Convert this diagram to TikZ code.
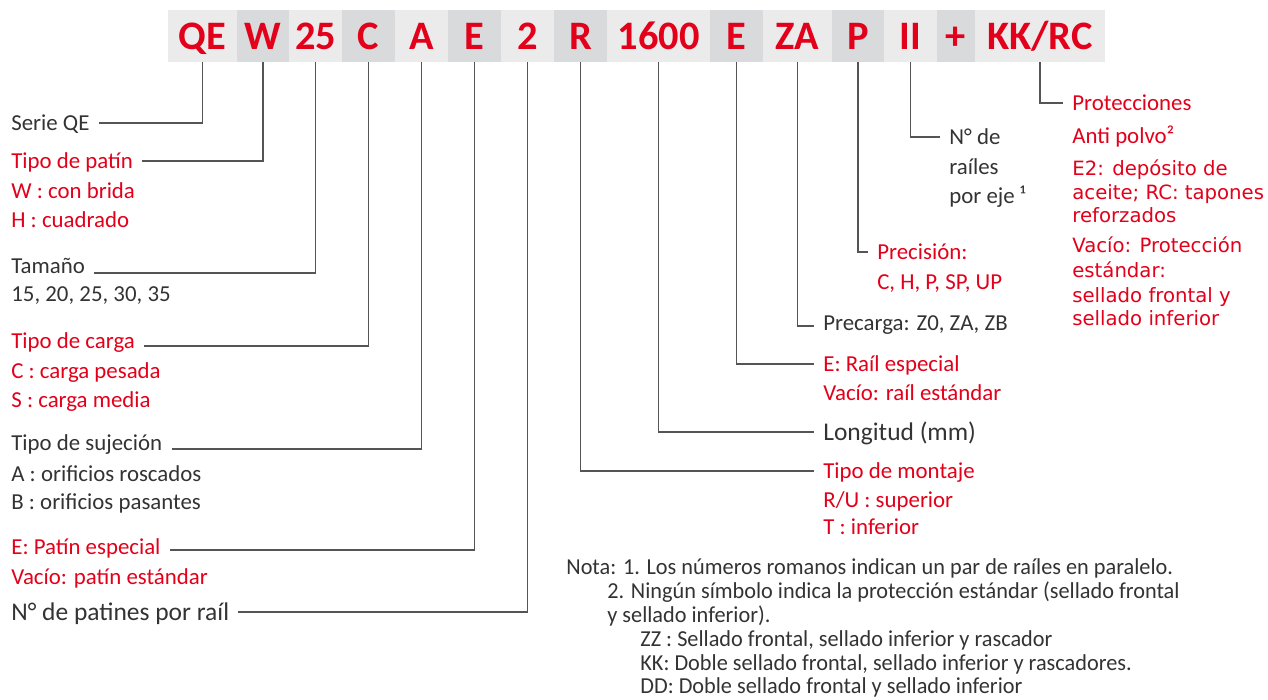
\documentclass[tikz,border=0pt]{standalone}
\usepackage{fontspec}
\setmainfont{Carlito}
\newfontfamily\notefont[FakeStretch=0.975]{Carlito}
\newfontfamily\altfont{DejaVu Sans}
\usepackage{tikz}
\usetikzlibrary{positioning}
\definecolor{CodeRed}{HTML}{E2001A}
\definecolor{CodeGray}{HTML}{333333}
\definecolor{CodeLine}{HTML}{555555}
\definecolor{CellLight}{HTML}{EBEBEB}
\definecolor{CellDark}{HTML}{D9DADB}

\begin{document}
\begin{tikzpicture}[x=0.2mm, y=-0.2mm, cell/.style={inner sep=0pt, outer sep=0pt, minimum height=10.4mm, text height=14.8pt, text depth=0pt, font=\fontsize{23}{26}\selectfont\bfseries, text=CodeRed}, lightcell/.style={cell, fill=CellLight}, darkcell/.style={cell, fill=CellDark}, lbl/.style={anchor=west, inner xsep=1.8mm, inner ysep=0pt, text height=8.4pt, text depth=0pt, font=\fontsize{13}{15}\selectfont, text=CodeGray}, redlbl/.style={lbl, text=CodeRed}, biglbl/.style={lbl, font=\fontsize{14.5}{17}\selectfont, text height=9.3pt}, altlbl/.style={redlbl, font=\altfont\fontsize{11.2}{13}\selectfont, text height=8.2pt}, notelbl/.style={lbl, inner xsep=0pt, font=\notefont\fontsize{13}{15}\selectfont}, lead/.style={line width=1pt, draw=CodeLine}]
\useasboundingbox (0,0) rectangle (1268,699);
% code bar
\node[lightcell, minimum width=13.8mm] (qe) at (202.5,36) {QE};
\node[darkcell, minimum width=10.4mm, right=0pt of qe] (w) {W};
\node[lightcell, minimum width=10.6mm, right=0pt of w] (size) {25};
\node[darkcell, minimum width=10.6mm, right=0pt of size] (load) {C};
\node[lightcell, minimum width=10.6mm, right=0pt of load] (fix) {A};
\node[darkcell, minimum width=10.6mm, right=0pt of fix] (blk) {E};
\node[lightcell, minimum width=10.6mm, right=0pt of blk] (nblk) {2};
\node[darkcell, minimum width=10.6mm, right=0pt of nblk] (mnt) {R};
\node[lightcell, minimum width=20.6mm, right=0pt of mnt] (len) {1600};
\node[darkcell, minimum width=10.6mm, right=0pt of len] (rail) {E};
\node[lightcell, minimum width=13.8mm, right=0pt of rail] (pre) {ZA};
\node[darkcell, minimum width=10.4mm, right=0pt of pre] (acc) {P};
\node[lightcell, minimum width=10.6mm, right=0pt of acc] (nrail) {II};
\node[darkcell, minimum width=7.6mm, right=0pt of nrail] (plus) {+};
\node[lightcell, minimum width=26mm, right=0pt of plus] (seal) {KK/RC};
% left side
\node[lbl] (serie) at (2,123) {Serie QE};
\node[redlbl] (patin) at (2,161) {Tipo de patín};
\foreach \s/\y [count=\i] in {W : con brida/191, H : cuadrado/220} \node[redlbl] (patin-\i) at (2,\y) {\s};
\node[lbl] (tam) at (2,266) {Tamaño};
\node[lbl] (tam-1) at (2,294) {15, 20, 25, 30, 35};
\node[redlbl] (carga) at (2,341) {Tipo de carga};
\foreach \s/\y [count=\i] in {C : carga pesada/371, S : carga media/400} \node[redlbl] (carga-\i) at (2,\y) {\s};
\node[lbl] (suj) at (2,443) {Tipo de sujeción};
\foreach \s/\y [count=\i] in {A : orificios roscados/474, B : orificios pasantes/502} \node[lbl] (suj-\i) at (2,\y) {\s};
\node[redlbl] (esp) at (2,547) {E: Patín especial};
\node[redlbl] (esp-1) at (2,577) {Vacío: patín estándar};
\node[biglbl] (npat) at (2,612) {N° de patines por raíl};
% right side
\node[lbl] (nr) at (940,137) {N° de};
\foreach \s/\y [count=\i] in {raíles/167, por eje ¹/196} \node[lbl] (nr-\i) at (940,\y) {\s};
\node[redlbl] (prot) at (1063,103) {Protecciones};
\node[redlbl] (prot-0) at (1063,136) {Anti polvo²};
\foreach \s/\y [count=\i] in {E2: depósito de/168, aceite; RC: tapones/192, reforzados/215, Vacío: Protección/245, estándar:/270, sellado frontal y/295, sellado inferior/318} \node[altlbl] (prot-\i) at (1063,\y) {\s};
\node[redlbl] (prec) at (868,252) {Precisión:};
\node[redlbl] (prec-1) at (868,282) {C, H, P, SP, UP};
\node[lbl] (precarga) at (814,323) {Precarga: Z0, ZA, ZB};
\node[redlbl] (esprail) at (814,364) {E: Raíl especial};
\node[redlbl] (esprail-1) at (814,393) {Vacío: raíl estándar};
\node[biglbl] (long) at (814,432) {Longitud (mm)};
\node[redlbl] (montaje) at (814,471) {Tipo de montaje};
\node[redlbl] (montaje-1) at (814,500) {R/U : superior};
\node[redlbl] (montaje-2) at (814,527) {T : inferior};
% notes
\node[notelbl] (nota) at (566,567) {Nota: 1. Los números romanos indican un par de raíles en paralelo.};
\node[notelbl] (nota-2) at (607,591) {2. Ningún símbolo indica la protección estándar (sellado frontal};
\node[notelbl] (nota-3) at (607,615) {y sellado inferior).};
\node[notelbl] (nota-zz) at (640,639) {ZZ : Sellado frontal, sellado inferior y rascador};
\node[notelbl] (nota-kk) at (640,663) {KK: Doble sellado frontal, sellado inferior y rascadores.};
\node[notelbl] (nota-dd) at (640,686) {DD: Doble sellado frontal y sellado inferior};
% leaders
\draw[lead] (qe) |- (serie); \draw[lead] (w) |- (patin); \draw[lead] (size) |- ([yshift=-4pt]tam.east); \draw[lead] (load) |- ([yshift=-2.8pt]carga.east);
\draw[lead] (fix) |- ([yshift=-3.4pt]suj.east); \draw[lead] (blk) |- ([yshift=-1.7pt]esp.east); \draw[lead] (nblk) |- (npat);
\draw[lead] (mnt) |- (montaje); \draw[lead] (len) |- (long); \draw[lead] (rail) |- (esprail); \draw[lead] (pre) |- ([yshift=-1.7pt]precarga.west);
\draw[lead] (acc) |- (prec); \draw[lead] (nrail) |- (nr); \draw[lead] (seal) |- (prot);
\end{tikzpicture}
\end{document}
